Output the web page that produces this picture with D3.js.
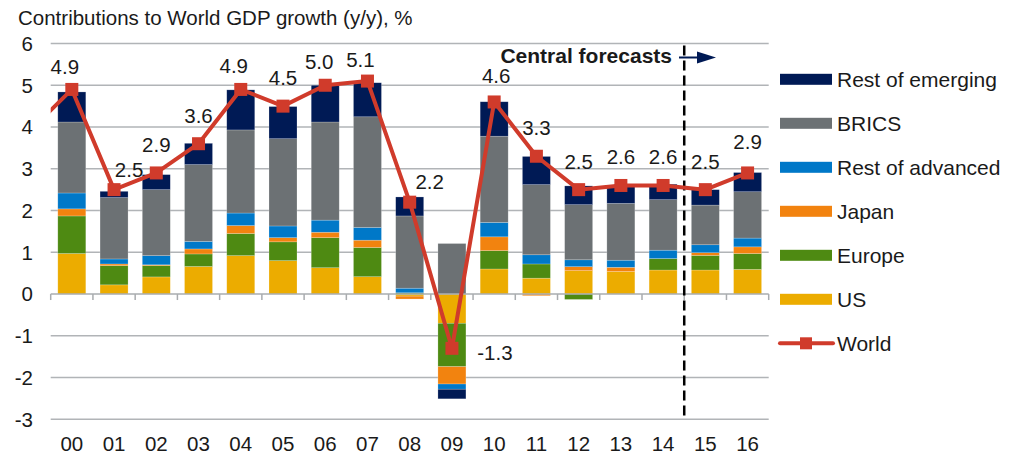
<!DOCTYPE html>
<html>
<head>
<meta charset="utf-8">
<script src="https://cdn.jsdelivr.net/npm/d3@7"></script>
<style>
  body { margin: 0; background: #fff; }
  svg text { font-family: "Liberation Sans", Arial, sans-serif; fill: #1a1a1a; }
</style>
</head>
<body>
<div id="chart"></div>
<script>
// data (contributions, percentage points)
var years = ["00","01","02","03","04","05","06","07","08","09","10","11","12","13","14","15","16"];
var us      = [0.97,0.22,0.41,0.66,0.92,0.80,0.63,0.415,-0.05,-0.70,0.60,0.38,0.56,0.54,0.575,0.575,0.59];
var europe  = [0.90,0.46,0.27,0.30,0.53,0.45,0.72,0.70,0.03,-1.04,0.44,0.34,-0.13,0.0,0.275,0.35,0.38];
var japan   = [0.17,0.04,0.02,0.12,0.19,0.10,0.13,0.175,-0.07,-0.415,0.33,-0.04,0.095,0.10,0.0,0.065,0.16];
var restAdv = [0.38,0.12,0.22,0.18,0.30,0.28,0.29,0.305,0.11,-0.125,0.345,0.22,0.165,0.17,0.20,0.19,0.21];
var brics   = [1.70,1.47,1.58,1.84,1.99,2.09,2.35,2.65,1.73,1.21,2.065,1.68,1.32,1.36,1.21,0.95,1.11];
var restEm  = [0.72,0.15,0.36,0.51,0.96,0.77,0.88,0.815,0.455,-0.23,0.825,0.675,0.45,0.40,0.37,0.37,0.46];
var world   = [4.9,2.5,2.9,3.6,4.9,4.5,5.0,5.1,2.2,-1.3,4.6,3.3,2.5,2.6,2.6,2.5,2.9];
var world1999 = 3.9; // line comes in from the previous year, clipped at the plot edge
var yTicks = [-3,-2,-1,0,1,2,3,4,5,6];
var forecastFrom = "15";

var seriesNames = ["US","Europe","Japan","Rest of advanced","BRICS","Rest of emerging"];
var seriesData = [us, europe, japan, restAdv, brics, restEm];
var colors = ["#ECAC00","#4E8A12","#F2830F","#0078C8","#6C7174","#001A55"];
var red = "#D03B2B";

var width = 1013, height = 456;
var left = 50.7, right = 768.7;

var svg = d3.select("#chart").append("svg")
  .attr("width", width)
  .attr("height", height);

var x = d3.scaleBand().domain(years).range([left, right]).paddingInner(0.337).paddingOuter(0.337/2);
var y = d3.scaleLinear().domain([-3, 6]).range([419.3, 43.5]);

// title
svg.append("text")
  .attr("x", 18).attr("y", 25)
  .style("font-size", "20.5px")
  .text("Contributions to World GDP growth (y/y), %");

// gridlines
svg.append("g").selectAll("line")
  .data(yTicks.filter(function(d){ return d != 0; }))
  .enter().append("line")
  .attr("x1", left).attr("x2", right)
  .attr("y1", function(d){ return y(d); })
  .attr("y2", function(d){ return y(d); })
  .attr("stroke", "#B1B4B7")
  .attr("stroke-width", 1.5);

// y labels
svg.append("g").selectAll("text")
  .data(yTicks)
  .enter().append("text")
  .attr("x", 33)
  .attr("y", function(d){ return y(d); })
  .attr("dy", "0.36em")
  .attr("text-anchor", "end")
  .style("font-size", "20.5px")
  .text(function(d){ return d; });

// stacked bars
var rows = years.map(function(yr, i){
  var r = {year: yr};
  seriesNames.forEach(function(s, k){ r[s] = seriesData[k][i]; });
  return r;
});
var stack = d3.stack().keys(seriesNames).offset(d3.stackOffsetDiverging);
var layers = stack(rows);

svg.append("g").selectAll("g")
  .data(layers)
  .enter().append("g")
  .attr("fill", function(d, i){ return colors[i]; })
  .selectAll("rect")
  .data(function(d){ return d; })
  .enter().append("rect")
  .attr("x", function(d){ return x(d.data.year); })
  .attr("width", x.bandwidth())
  .attr("y", function(d){ return y(Math.max(d[0], d[1])); })
  .attr("height", function(d){ return Math.abs(y(d[0]) - y(d[1])); })
  .attr("stroke", "rgba(255,255,255,0.35)")
  .attr("stroke-width", 0.6);

// zero axis with ticks between categories
var step = x.step();
var zero = svg.append("g");
zero.append("line")
  .attr("x1", left).attr("x2", right)
  .attr("y1", y(0)).attr("y2", y(0))
  .attr("stroke", "#A9ACAF").attr("stroke-width", 1.5);
zero.selectAll(".tk")
  .data(d3.range(years.length + 1))
  .enter().append("line")
  .attr("x1", function(d){ return left + d * step; })
  .attr("x2", function(d){ return left + d * step; })
  .attr("y1", y(0)).attr("y2", y(0) + 6)
  .attr("stroke", "#A9ACAF").attr("stroke-width", 1.5);

// x labels
svg.append("g").selectAll("text")
  .data(years)
  .enter().append("text")
  .attr("x", function(d){ return x(d) + x.bandwidth()/2; })
  .attr("y", 451)
  .attr("text-anchor", "middle")
  .style("font-size", "20.5px")
  .text(function(d){ return d; });

// forecast divider
var xf = x(forecastFrom) - x.step() * x.paddingInner() / 2;
svg.append("line")
  .attr("x1", xf).attr("x2", xf)
  .attr("y1", y(6) + 2).attr("y2", y(-3))
  .attr("stroke", "#000").attr("stroke-width", 2.5)
  .attr("stroke-dasharray", "10,5");

svg.append("text")
  .attr("x", 672).attr("y", 63)
  .attr("text-anchor", "end")
  .style("font-size", "21px")
  .style("font-weight", "bold")
  .text("Central forecasts");

svg.append("line")
  .attr("x1", 679).attr("x2", 700)
  .attr("y1", 57.5).attr("y2", 57.5)
  .attr("stroke", "#001A55").attr("stroke-width", 2);
svg.append("path")
  .attr("d", "M697,51.5 L716,57.5 L697,63.5 Z")
  .attr("fill", "#001A55");

// world line
svg.append("clipPath").attr("id", "plotclip")
  .append("rect").attr("x", left).attr("y", 0).attr("width", right - left).attr("height", height);

var cx = function(i){ return x(years[i]) + x.bandwidth()/2; };
var pts = [[cx(0) - step, y(world1999)]].concat(world.map(function(d, i){ return [cx(i), y(d)]; }));

svg.append("path")
  .attr("clip-path", "url(#plotclip)")
  .attr("d", d3.line()(pts))
  .attr("fill", "none")
  .attr("stroke", red)
  .attr("stroke-width", 4)
  .attr("stroke-linejoin", "round");

svg.append("g").selectAll("rect")
  .data(world)
  .enter().append("rect")
  .attr("x", function(d, i){ return cx(i) - 6.5; })
  .attr("y", function(d){ return y(d) - 6.5; })
  .attr("width", 13).attr("height", 13)
  .attr("fill", red);

// data labels, a few nudged like in the original
var nudge = {0:[-7,-15], 1:[15,-13], 4:[-7,-16], 6:[-6,-16], 7:[-7,-14], 8:[20,-13], 9:[43,12], 10:[2,-19], 16:[0,-24]};
svg.append("g").selectAll("text")
  .data(world)
  .enter().append("text")
  .attr("x", function(d, i){ return cx(i) + (nudge[i] ? nudge[i][0] : 0); })
  .attr("y", function(d, i){ return y(d) + (nudge[i] ? nudge[i][1] : -21); })
  .attr("text-anchor", "middle")
  .style("font-size", "20.5px")
  .text(function(d){ return d.toFixed(1); });

// legend
var legendItems = seriesNames.slice().reverse();
var legend = svg.append("g").attr("transform", "translate(780,0)");
legendItems.forEach(function(name, i){
  var ly = 79.3 + i * 44;
  legend.append("rect")
    .attr("x", 0).attr("y", ly - 5.5)
    .attr("width", 52).attr("height", 11)
    .attr("fill", colors[seriesNames.indexOf(name)]);
  legend.append("text")
    .attr("x", 57).attr("y", ly)
    .attr("dy", "0.36em")
    .style("font-size", "21px")
    .text(name);
});
var wy = 79.3 + 6 * 44;
legend.append("line")
  .attr("x1", 0).attr("x2", 53)
  .attr("y1", wy).attr("y2", wy)
  .attr("stroke", red).attr("stroke-width", 4).attr("stroke-linecap", "round");
legend.append("rect")
  .attr("x", 20).attr("y", wy - 6)
  .attr("width", 12).attr("height", 12)
  .attr("fill", red);
legend.append("text")
  .attr("x", 57).attr("y", wy)
  .attr("dy", "0.36em")
  .style("font-size", "21px")
  .text("World");
</script>
</body>
</html>
